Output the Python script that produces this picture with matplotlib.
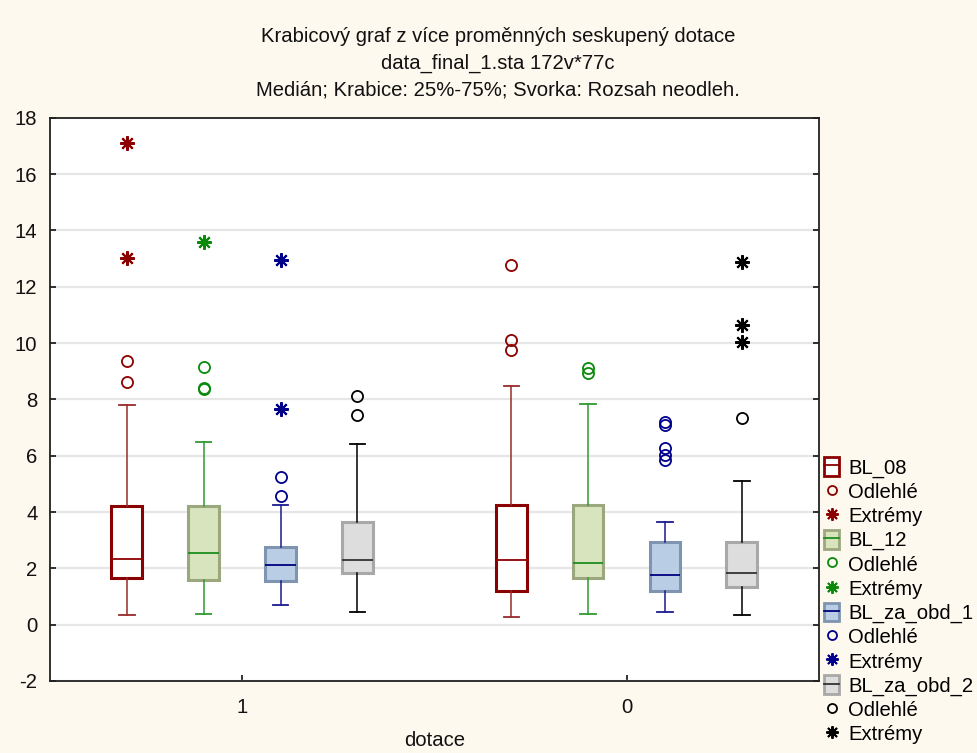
import matplotlib
matplotlib.use("Agg")
import matplotlib.pyplot as plt
from matplotlib.patches import Patch
from matplotlib.lines import Line2D
from matplotlib.legend_handler import HandlerTuple

plt.rcParams['font.family'] = ['Liberation Sans', 'DejaVu Sans']

# ---------------- data ----------------
groups = ['1', '0']
variables = ['BL_08', 'BL_12', 'BL_za_obd_1', 'BL_za_obd_2']

# rows = groups (1, 0); columns = variables
medians = [[2.33, 2.56, 2.12, 2.31],
           [2.28, 2.19, 1.76, 1.83]]
q1 = [[1.64, 1.60, 1.56, 1.82],
      [1.18, 1.66, 1.18, 1.34]]
q3 = [[4.22, 4.22, 2.74, 3.65],
      [4.26, 4.25, 2.92, 2.94]]
whisker_low = [[0.33, 0.37, 0.70, 0.44],
               [0.26, 0.37, 0.46, 0.34]]
whisker_high = [[7.80, 6.49, 4.26, 6.43],
                [8.48, 7.84, 3.64, 5.10]]
outliers = [[[9.37, 8.61], [9.15, 8.40, 8.36], [5.26, 4.58], [8.12, 7.45]],
            [[12.76, 10.11, 9.76], [9.13, 8.93], [7.18, 7.09, 6.27, 6.03, 5.85], [7.33]]]
extremes = [[[17.10, 13.02], [13.60], [12.95, 7.67], []],
            [[], [], [], [12.87, 10.64, 10.03]]]

legend_outlier = 'Odlehlé'
legend_extreme = 'Extrémy'
title_lines = ['Krabicový graf z více proměnných seskupený dotace',
               'data_final_1.sta 172v*77c',
               'Medián; Krabice: 25%-75%; Svorka: Rozsah neodleh.']
x_label = 'dotace'
y_ticks = list(range(-2, 19, 2))

# ---------------- styles ----------------
box_face = ['#FFFFFF', '#D7E4BD', '#B9CDE5', '#DDDDDD']
box_edge = ['#8B0000', '#9BA77C', '#7F94B0', '#A8A8A8']
median_col = ['#8B0000', '#1E8C1E', '#00007F', '#333333']
whisk_col = ['#9B2A2A', '#2E9A2E', '#1A1A90', '#000000']
flier_col = ['#8B0000', '#0A8A0A', '#00008B', '#000000']
offsets = [-0.3, -0.1, 0.1, 0.3]
bg = '#FEF9EE'
asterisk = (8, 2, 0)
fs = 14.6

fig = plt.figure(figsize=(9.78, 7.53), dpi=100, facecolor=bg)
ax = fig.add_axes([50 / 978, 1 - 681 / 753, (818.7 - 50) / 978, (681 - 117.7) / 753])
ax.set_facecolor('white')

for gi, g in enumerate(groups):
    for vi, v in enumerate(variables):
        pos = gi + offsets[vi]
        stats = [dict(med=medians[gi][vi], q1=q1[gi][vi], q3=q3[gi][vi],
                      whislo=whisker_low[gi][vi], whishi=whisker_high[gi][vi],
                      fliers=[], label=v)]
        ax.bxp(stats, positions=[pos], widths=0.08, patch_artist=True,
               showfliers=False, manage_ticks=False,
               boxprops=dict(facecolor=box_face[vi], edgecolor=box_edge[vi], linewidth=2.2),
               medianprops=dict(color=median_col[vi], linewidth=1.3),
               whiskerprops=dict(color=whisk_col[vi], linewidth=1.1),
               capprops=dict(color=whisk_col[vi], linewidth=1.3),
               capwidths=0.04, zorder=3)
        o = outliers[gi][vi]
        if o:
            ax.plot([pos] * len(o), o, linestyle='none', marker='o', markersize=8,
                    markerfacecolor='none', markeredgecolor=flier_col[vi],
                    markeredgewidth=1.3, zorder=4)
        e = extremes[gi][vi]
        if e:
            ax.plot([pos] * len(e), e, linestyle='none', marker=asterisk, markersize=10.5,
                    markeredgecolor=flier_col[vi], markeredgewidth=1.5, zorder=4)

ax.set_xlim(-0.5, 1.5)
ax.set_ylim(-2, 18)
ax.set_xticks(range(len(groups)))
ax.set_xticklabels(groups)
ax.set_yticks(y_ticks)
ax.set_yticklabels([str(t) for t in y_ticks])
ax.yaxis.grid(True, color='#E6E6E6', linewidth=1.6, zorder=0)
ax.set_axisbelow(True)
ax.tick_params(axis='both', direction='in', length=4, width=1.2, labelsize=fs,
               colors='#111111')
ax.tick_params(axis='y', pad=9, right=True)
ax.tick_params(axis='x', pad=12)
for s in ax.spines.values():
    s.set_linewidth(1.3)
    s.set_color('#222222')
ax.set_xlabel(x_label, fontsize=fs, labelpad=10, color='#111111')

for i, line in enumerate(title_lines):
    fig.text(498 / 978, 1 - (37 + 26.5 * i) / 753, line, ha='center', va='center',
             fontsize=fs, color='#111111')

handles, labels = [], []
for vi, v in enumerate(variables):
    handles.append((Patch(facecolor=box_face[vi], edgecolor=box_edge[vi], linewidth=2),
                    Line2D([], [], color=median_col[vi], linewidth=1.3)))
    labels.append(v)
    handles.append(Line2D([], [], linestyle='none', marker='o', markersize=6.5,
                          markerfacecolor='none', markeredgecolor=flier_col[vi],
                          markeredgewidth=1.3))
    labels.append(legend_outlier)
    handles.append(Line2D([], [], linestyle='none', marker=asterisk, markersize=9,
                          markeredgecolor=flier_col[vi], markeredgewidth=1.4))
    labels.append(legend_extreme)

fig.legend(handles, labels, loc='upper left', bbox_to_anchor=(820 / 978, 1 - 453 / 753),
           frameon=False, fontsize=fs, handlelength=0.75, handleheight=1.05,
           handletextpad=0.45, labelspacing=0.19, borderpad=0.2, borderaxespad=0,
           handler_map={tuple: HandlerTuple(ndivide=1, pad=0)})

fig.savefig('out.png', dpi=100, facecolor=bg)
